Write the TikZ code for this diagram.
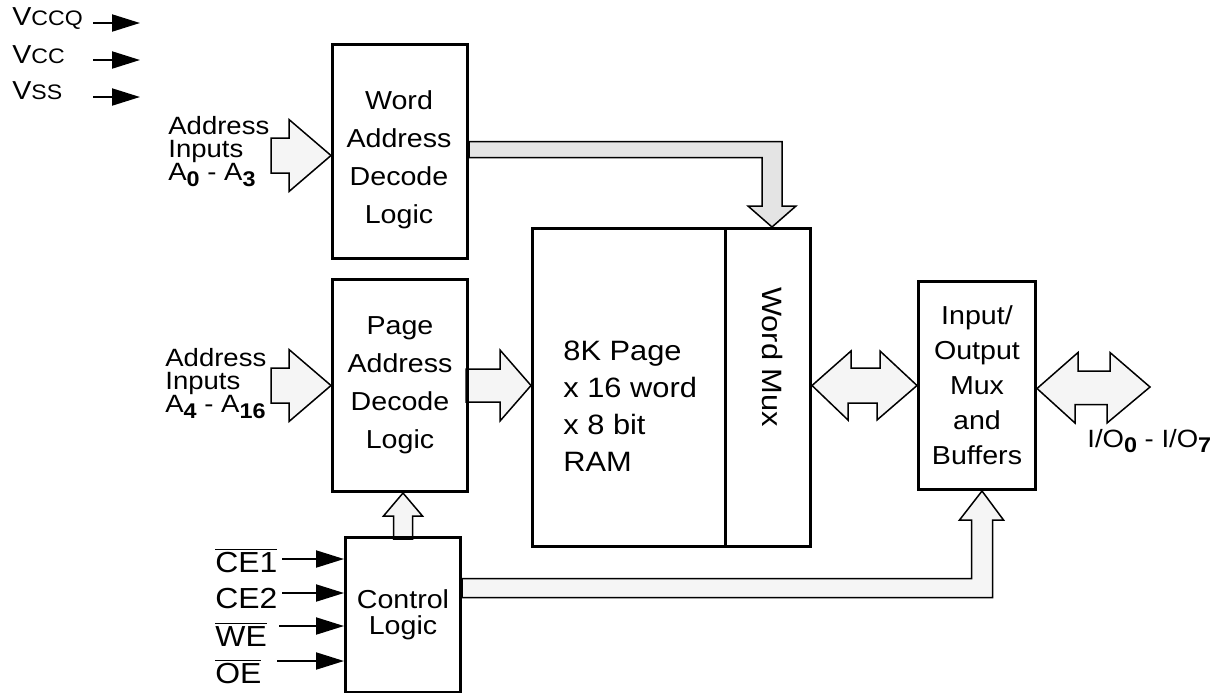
\documentclass[tikz,border=0pt]{standalone}
\usepackage{fontspec}
\setmainfont[FakeStretch=1.1]{Liberation Sans}
\usetikzlibrary{arrows.meta,calc,positioning,backgrounds}
\definecolor{busfill}{HTML}{F5F5F5}
\definecolor{busdark}{HTML}{E4E4E4}
\newcommand{\bsub}[1]{\raisebox{-0.45ex}{\scalebox{0.85}{\bfseries #1}}}
\newcommand{\ovl}[1]{$\overline{\mbox{#1}}$}

\begin{document}
\begin{tikzpicture}[
    x=0.5pt, y=-0.5pt,
    block/.style={rectangle, draw, line width=1.5pt, inner sep=0pt, align=center},
    boxtext/.style={font=\fontsize{13}{19}\selectfont, align=center},
    bus/.style={draw, line width=0.75pt, fill=busfill, line join=miter},
    sig/.style={line width=1pt, -{Triangle[length=14pt,width=8.5pt]}},
    lbl/.style={inner sep=0pt, align=left, font=\fontsize{12.5}{11.5}\selectfont},
    pin/.style={inner sep=0pt, font=\fontsize{14.5}{14.5}\selectfont},
]
\useasboundingbox (0,0) rectangle (1219,692);

% blocks
\node[block, minimum width=67.5pt, minimum height=107pt, anchor=north west] (word) at (331,43) {};
\node[boxtext] (wordtxt) at (399,160) {Word\\Address\\Decode\\Logic};

\node[block, boxtext, minimum width=67.5pt, minimum height=106pt, anchor=north west] (page) at (331,278) {Page\\Address\\Decode\\Logic};

\node[block, minimum width=139pt, minimum height=159pt, anchor=north west] (ram) at (531,227) {};
\coordinate (muxl) at (725,0);
\draw[line width=1.5pt] (ram.north -| muxl) -- (ram.south -| muxl);
\node[anchor=west, align=left, inner sep=0pt, font=\fontsize{14}{18.5}\selectfont] (ramtxt) at (563,406) {8K Page\\x 16 word\\x 8 bit\\RAM};
\node[rotate=-90, font=\fontsize{14}{14}\selectfont] (mux) at (772,357) {Word Mux};

\node[block, font=\fontsize{13}{17.5}\selectfont, minimum width=58.5pt, minimum height=104pt, anchor=north west] (io) at (917,280) {Input/\\Output\\Mux\\and\\Buffers};

\node[block, font=\fontsize{13}{13}\selectfont, minimum width=57.5pt, minimum height=77.5pt, anchor=north west] (ctrl) at (344,536) {Control\\Logic};

% buses
\coordinate (t1) at ($(word.west)+(0,4)$);
\coordinate (t4) at ($(ram.north east)+(-40,0)$);
\coordinate (t8) at ($(io.south)+(5,0)$);
\coordinate (iopins) at (1150,387);
\begin{scope}[on background layer]
\draw[bus] (t1) -- ++(-42,-36) -- ++(0,18.5) -- ++(-18,0) -- ++(0,35) -- ++(18,0) -- ++(0,18.5) -- cycle;
\draw[bus] (page.west) -- ++(-42,-36) -- ++(0,18.5) -- ++(-18,0) -- ++(0,35) -- ++(18,0) -- ++(0,18.5) -- cycle;
\draw[bus] (page.east -| ram.west) -- ++(-31,-35.5) -- ++(0,19) -- ++(-34,0) -- ++(0,33) -- ++(34,0) -- ++(0,19) -- cycle;
\draw[bus, fill=busdark] (t4) -- ++(24,-21) -- ++(-14,0) |- ($(word.east)+(0,-10)$) -- ++(0,16) -| ($(t4)+(-10,-21)$) -- ++(-14,0) -- cycle;
\draw[bus] (ram.east |- io.west) -- ++(39,-34.5) -- ++(0,17) -- ++(29,0) -- ++(0,-17) -- (io.west) -- ++(-40,34.5) -- ++(0,-17) -- ++(-29,0) -- ++(0,17) -- cycle;
\draw[bus] ($(io.east)+(0,3)$) -- ++(41,-36) -- ++(0,18.5) -- ++(32,0) -- ++(0,-18.5) -- (iopins) -- ++(-43,36) -- ++(0,-18.5) -- ++(-32,0) -- ++(0,18.5) -- cycle;
\draw[bus] (ctrl.north |- page.south) -- ++(19.5,23) -- ++(-10,0) -- ++(0,23) -- ++(-19,0) -- ++(0,-23) -- ++(-10,0) -- cycle;
\draw[bus] (t8) -- ++(21.5,29) -- ++(-11,0) |- ($(ctrl.east)+(0,-17.5)$) -- ++(0,-19) -| ($(t8)+(-10.5,29)$) -- ++(-12,0) -- cycle;
\end{scope}

% labels
\node[lbl, anchor=west] (addrlo) at (168,152) {Address\\Inputs\\A\bsub{0} - A\bsub{3}};
\node[lbl, anchor=west] (addrhi) at (165,384) {Address\\Inputs\\A\bsub{4} - A\bsub{16}};
\node[anchor=base west, inner sep=0pt, font=\fontsize{12.5}{12.5}\selectfont] (iolbl) at (1087,447) {I/O\bsub{0} - I/O\bsub{7}};

% power pins
\node[anchor=base west, inner sep=0pt, font=\fontsize{13}{13}\selectfont] (vccq) at (12,25) {V{\fontsize{10.5}{10.5}\selectfont CCQ}};
\node[anchor=base west, inner sep=0pt, font=\fontsize{13}{13}\selectfont] (vcc) at (12,63) {V{\fontsize{10.5}{10.5}\selectfont CC}};
\node[anchor=base west, inner sep=0pt, font=\fontsize{13}{13}\selectfont] (vss) at (12,99) {V{\fontsize{10.5}{10.5}\selectfont SS}};
\foreach \yy in {23,60,97}
  \draw[sig] (93,\yy) -- ++(47,0);

% control pins
\node[pin, anchor=base west] (ce1) at (215,572) {\ovl{CE1}};
\node[pin, anchor=base west] (ce2) at (215,608) {CE2};
\node[pin, anchor=base west] (we) at (215,646) {\ovl{WE}};
\node[pin, anchor=base west] (oe) at (215,683) {\ovl{OE}};
\foreach \yy/\xx in {559/282,593/282,626/279,661/277}
  \draw[sig] (\xx,\yy) -- (ctrl.west |- 0,\yy);

\end{tikzpicture}
\end{document}
